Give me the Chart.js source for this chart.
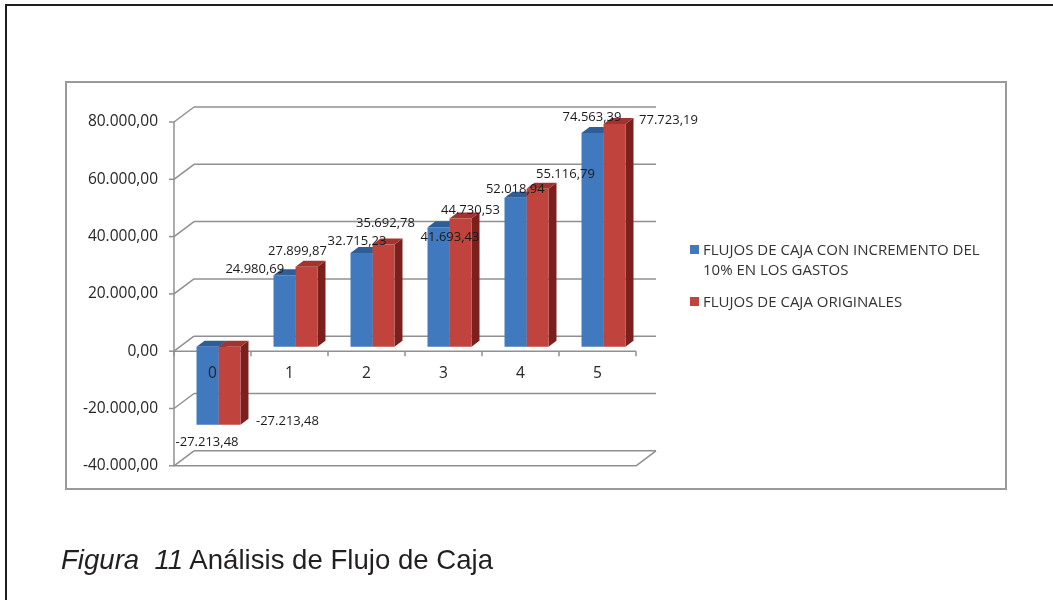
<!DOCTYPE html>
<html>
<head>
<meta charset="utf-8">
<script src="https://cdn.jsdelivr.net/npm/chart.js@4.4.1/dist/chart.umd.min.js"></script>
<style>
  body { margin: 0; background: #fff; width: 1053px; height: 600px; overflow: hidden; position: relative; font-family: 'Open Sans', sans-serif; }
  #frame { position: absolute; left: 5px; top: 4px; width: 1100px; height: 700px; border-left: 2px solid #1e1e1e; border-top: 2px solid #1e1e1e; }
  #box { position: absolute; left: 65px; top: 81px; width: 938px; height: 405px; border: 2px solid #9a9a9a; }
  canvas { position: absolute; left: 0; top: 0; }
  #legend { position: absolute; left: 690px; top: 238.6px; width: 308px; color: #333; font-size: 15px; line-height: 20px; }
  .item { position: relative; padding-left: 13px; margin-bottom: 12px; }
  .item .sw { position: absolute; left: 0; top: 6px; width: 9px; height: 9px; }
  #caption { position: absolute; left: 61px; top: 546px; font-family: 'Liberation Sans', Arial, sans-serif; font-size: 27.6px; line-height: 1; color: #231f20; white-space: nowrap; }
</style>
</head>
<body>
<div id="frame"></div>
<div id="box"></div>
<canvas id="chart" width="1053" height="600"></canvas>
<div id="legend"></div>
<div id="caption"><i>Figura&nbsp; 11</i> Análisis de Flujo de Caja</div>
<script>
// years 0..5
const categories = ['0', '1', '2', '3', '4', '5'];
const flujosIncremento = [-27213.48, 24980.69, 32715.23, 41693.43, 52018.94, 74563.39];
const flujosOriginales = [-27213.48, 27899.87, 35692.78, 44730.53, 55116.79, 77723.19];
const seriesNames = ['FLUJOS DE CAJA CON INCREMENTO DEL 10% EN LOS GASTOS', 'FLUJOS DE CAJA ORIGINALES'];
const yTickValues = [-40000, -20000, 0, 20000, 40000, 60000, 80000];

//front, top and side colour of each series
const faceColors = [
  { front: '#4079bd', top: '#2d5e97', side: '#2a5288' },
  { front: '#c0443d', top: '#a3332e', side: '#7b201d' }
];
//where each value label sits, relative to the end of its bar (as excel left them)
const labelNudge = [
  [[-0.5, 17.7], [-29.7, -6.1], [-4.5, -11.6], [11.5, 10.2], [-0.2, -8.7], [-0.5, -16.1]],
  [[58, -3.3], [-9, -15.4], [2, -21.4], [10, -7.8], [28, -14.1], [54, -4]]
];

//fake 3d: depth of the box and where the bars sit in it
const DEPTH_X = 20, DEPTH_Y = 15, BAR_FRONT = 0.3, BAR_DEPTH = 0.4;
const textFont = { family: 'Open Sans', size: 15.5 };

const formatEs = (v) => {
  const parts = Math.abs(v).toFixed(2).split('.');
  const whole = parts[0].replace(/\B(?=(\d{3})+(?!\d))/g, '.');
  return (v < 0 ? '-' : '') + whole + ',' + parts[1];
};

const frame3d = {
  id: 'frame3d',
  beforeDatasetsDraw(chart) {
    const { ctx, chartArea: a, scales: { x, y } } = chart;
    const fx = -BAR_FRONT * DEPTH_X, fy = BAR_FRONT * DEPTH_Y;
    const bx = (1 - BAR_FRONT) * DEPTH_X, by = -(1 - BAR_FRONT) * DEPTH_Y;
    const L = a.left, R = a.right;
    const line = (x1, y1, x2, y2) => { ctx.beginPath(); ctx.moveTo(x1, y1); ctx.lineTo(x2, y2); ctx.stroke(); };
    const poly = (pts, color) => {
      ctx.beginPath();
      pts.forEach((p, i) => i ? ctx.lineTo(p[0], p[1]) : ctx.moveTo(p[0], p[1]));
      ctx.closePath();
      ctx.fillStyle = color;
      ctx.fill();
    };
    ctx.save();
    ctx.strokeStyle = '#909090';
    ctx.lineWidth = 1.5;
    //back wall gridlines + left wall diagonals + y ticks
    y.ticks.forEach(t => {
      const p = y.getPixelForValue(t.value);
      line(L + fx, p + fy, L + bx, p + by);
      line(L + bx, p + by, R + bx, p + by);
      line(L + fx - 5, p + fy, L + fx, p + fy);
    });
    //floor
    const pMin = y.getPixelForValue(y.min);
    line(L + fx, pMin + fy, R + fx, pMin + fy);
    line(R + fx, pMin + fy, R + bx, pMin + by);
    //value axis
    line(L + fx, y.getPixelForValue(y.max) + fy, L + fx, pMin + fy);
    //category axis at zero with its ticks
    const p0 = y.getPixelForValue(0);
    line(L + fx, p0 + fy, R + fx, p0 + fy);
    const w = x.getPixelForValue(1) - x.getPixelForValue(0);
    for (let i = 0; i <= categories.length; i++) {
      const tx = L + fx + i * w;
      line(tx, p0 + fy, tx, p0 + fy + 5);
    }
    //top and side of each bar
    const dx = BAR_DEPTH * DEPTH_X, dy = BAR_DEPTH * DEPTH_Y;
    chart.data.datasets.forEach((ds, di) => {
      const c = faceColors[di];
      chart.getDatasetMeta(di).data.forEach(bar => {
        const { x: cx, y: vy, base, width } = bar.getProps(['x', 'y', 'base', 'width'], true);
        const x1 = cx - width / 2, x2 = cx + width / 2;
        const top = Math.min(vy, base), bot = Math.max(vy, base);
        poly([[x2, top], [x2 + dx, top - dy], [x2 + dx, bot - dy], [x2, bot]], c.side);
        poly([[x1, top], [x2, top], [x2 + dx, top - dy], [x1 + dx, top - dy]], c.top);
      });
    });
    ctx.restore();
  }
};

const valueLabels = {
  id: 'valueLabels',
  afterDatasetsDraw(chart) {
    const ctx = chart.ctx;
    ctx.save();
    ctx.font = '13px "Open Sans"';
    ctx.fillStyle = '#1a1a1a';
    ctx.textAlign = 'center';
    ctx.textBaseline = 'middle';
    chart.data.datasets.forEach((ds, di) => {
      chart.getDatasetMeta(di).data.forEach((bar, i) => {
        const n = labelNudge[di][i];
        ctx.fillText(formatEs(ds.data[i]), bar.x + n[0], bar.y + n[1]);
      });
    });
    ctx.restore();
  }
};

const chart = new Chart(document.getElementById('chart'), {
  type: 'bar',
  data: {
    labels: categories,
    datasets: [
      { label: seriesNames[0], data: flujosIncremento, backgroundColor: faceColors[0].front },
      { label: seriesNames[1], data: flujosOriginales, backgroundColor: faceColors[1].front }
    ]
  },
  options: {
    responsive: false,
    animation: false,
    layout: { padding: { left: 0, top: 117.5, right: 411, bottom: 138.7 } },
    datasets: { bar: { categoryPercentage: 0.571, barPercentage: 1, borderWidth: 0 } },
    plugins: {
      legend: { display: false },
      tooltip: { enabled: false }
    },
    scales: {
      x: {
        position: { y: 0 },
        grid: { display: false, drawTicks: false },
        border: { display: false },
        // z 1: category names go over the bars (the "0" sits on the negative bar)
        ticks: { z: 1, padding: 18, labelOffset: -6, color: '#262626', font: textFont }
      },
      y: {
        min: -40000,
        max: 80000,
        afterBuildTicks: (s) => { s.ticks = yTickValues.map(v => ({ value: v })); },
        afterFit: (s) => { s.width = 180; },
        grid: { display: false, drawTicks: false },
        border: { display: false },
        ticks: { padding: 22, labelOffset: 4.5, color: '#262626', font: textFont, callback: (v) => formatEs(v) }
      }
    }
  },
  plugins: [frame3d, valueLabels]
});

//html legend so the long name can wrap
const legend = document.getElementById('legend');
chart.data.datasets.forEach(ds => {
  const item = document.createElement('div');
  item.className = 'item';
  const sw = document.createElement('span');
  sw.className = 'sw';
  sw.style.background = ds.backgroundColor;
  item.appendChild(sw);
  item.appendChild(document.createTextNode(ds.label));
  legend.appendChild(item);
});
</script>
</body>
</html>
